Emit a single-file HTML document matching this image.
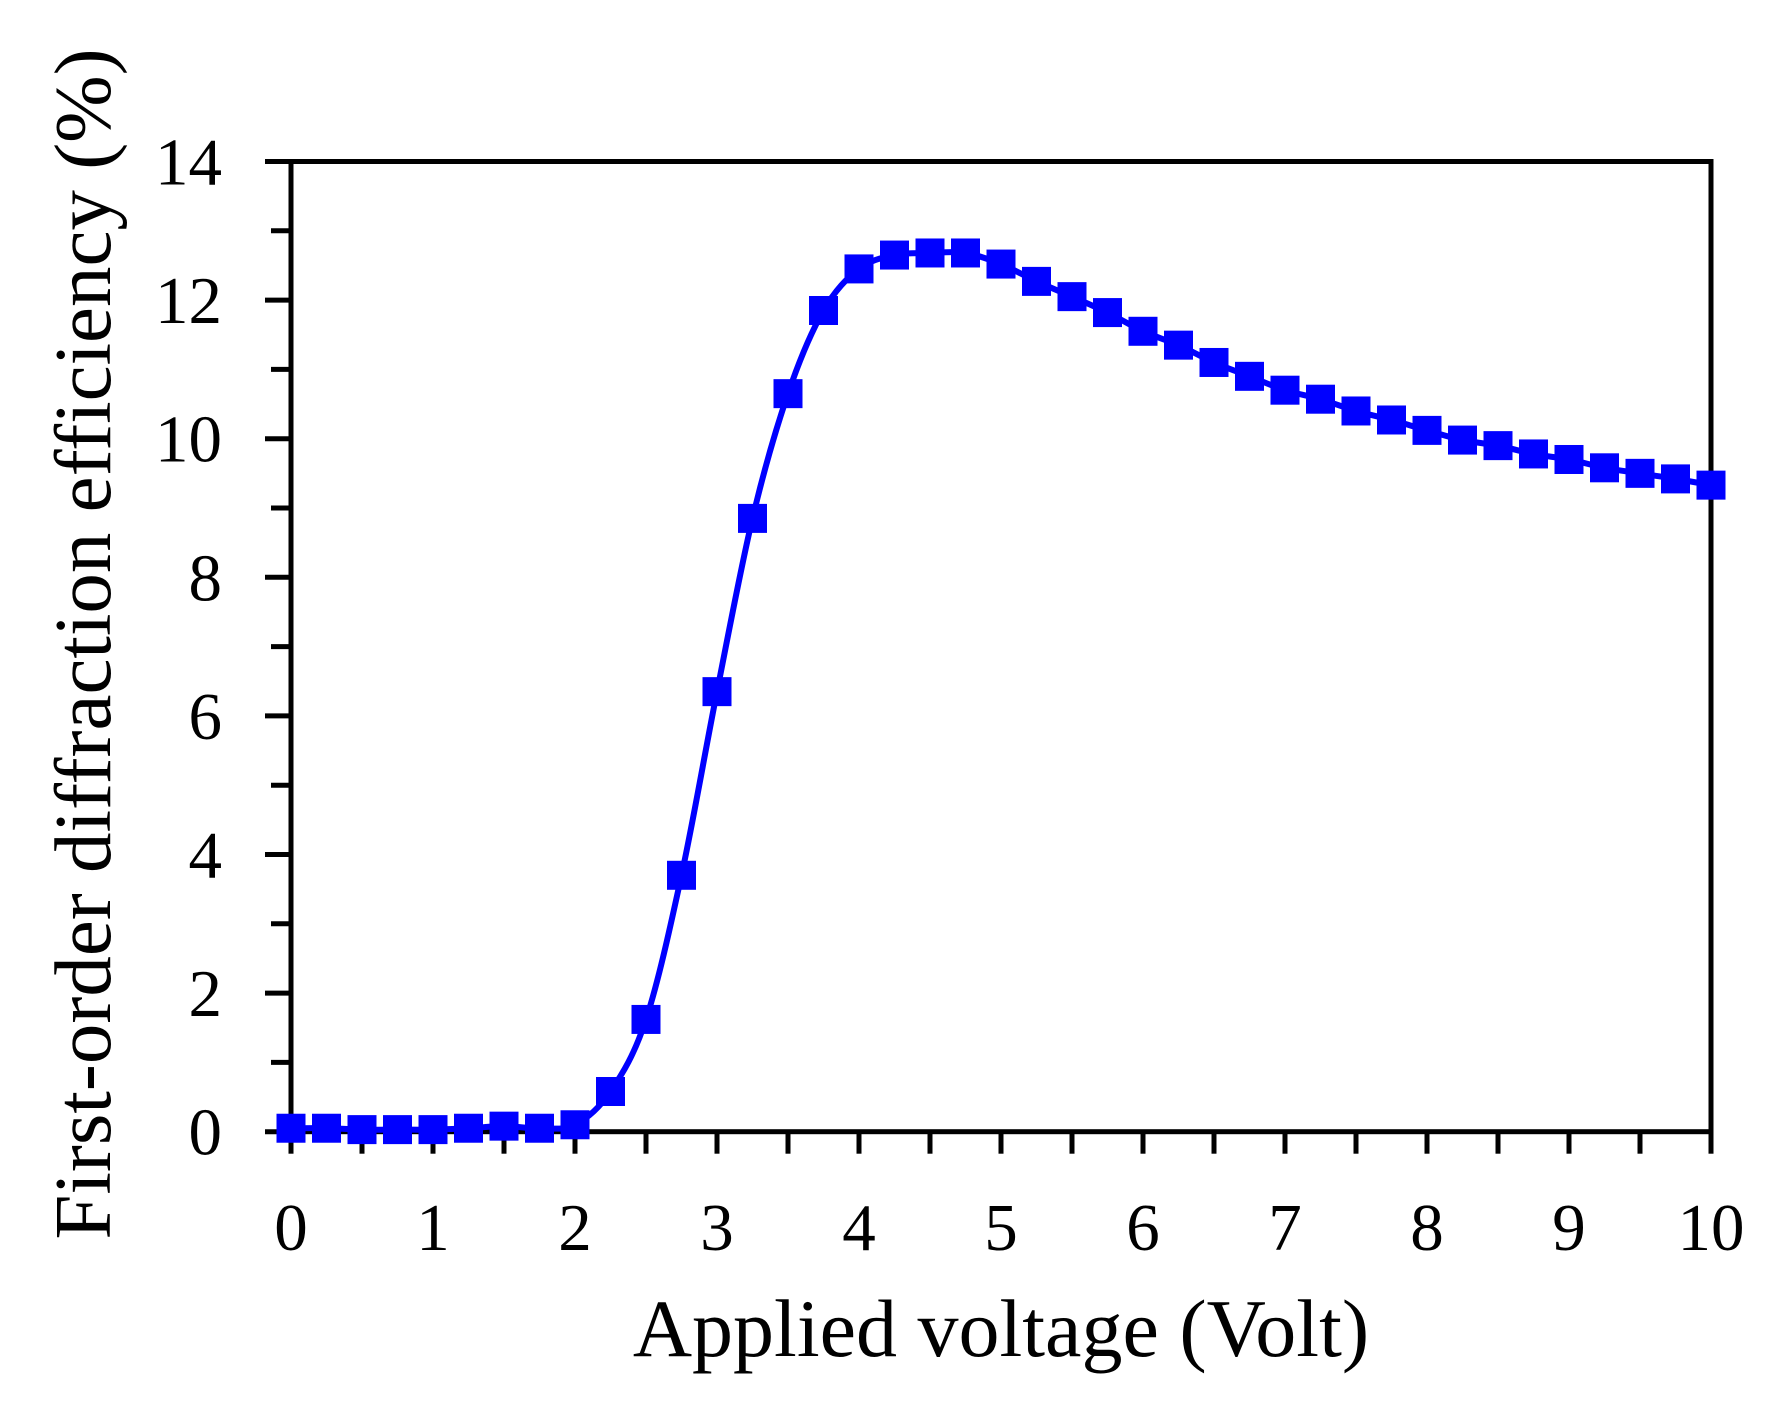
<!DOCTYPE html>
<html><head><meta charset="utf-8"><style>
html,body{margin:0;padding:0;background:#fff;}
svg text{font-family:"Liberation Serif",serif;fill:#000;}
</style></head><body>
<svg id="chart" width="1779" height="1401" viewBox="0 0 1779 1401" xmlns="http://www.w3.org/2000/svg">
<g id="axes"></g>
<path id="curve" fill="none" stroke="#0000ff" stroke-width="6"/>
<g id="marks"></g>
<text x="1001" y="1356" font-size="82" text-anchor="middle">Applied voltage (Volt)</text>
<text transform="translate(110,644) rotate(-90)" font-size="81" text-anchor="middle">First-order diffraction efficiency (%)</text>
</svg>
<script>
const voltages=[0,0.25,0.5,0.75,1,1.25,1.5,1.75,2,2.25,2.5,2.75,3,3.25,3.5,3.75,4,4.25,4.5,4.75,5,5.25,5.5,5.75,6,6.25,6.5,6.75,7,7.25,7.5,7.75,8,8.25,8.5,8.75,9,9.25,9.5,9.75,10];
const efficiency=[0.05,0.05,0.03,0.03,0.03,0.05,0.08,0.05,0.1,0.58,1.62,3.7,6.35,8.85,10.65,11.85,12.45,12.65,12.68,12.68,12.52,12.27,12.05,11.82,11.55,11.35,11.1,10.9,10.7,10.57,10.4,10.27,10.12,9.98,9.9,9.78,9.7,9.58,9.5,9.42,9.33];
const xTicks=[0,1,2,3,4,5,6,7,8,9,10];
const yTicks=[0,2,4,6,8,10,12,14];
const NS='http://www.w3.org/2000/svg';
const X0=291,X1=1711,Y0=1131.7,Y1=161.5;
const xs=v=>X0+(v-0)/(10-0)*(X1-X0);
const ys=v=>Y0-(v-0)/(14-0)*(Y0-Y1);
const axes=document.getElementById('axes');
function line(x1,y1,x2,y2,w,name){const l=document.createElementNS(NS,'line');l.setAttribute('x1',x1);l.setAttribute('y1',y1);l.setAttribute('x2',x2);l.setAttribute('y2',y2);l.setAttribute('stroke','#000');l.setAttribute('stroke-width',w);


axes.appendChild(l);}
const fr=document.createElementNS(NS,'rect');
fr.setAttribute('x',X0);fr.setAttribute('y',Y1);fr.setAttribute('width',X1-X0);fr.setAttribute('height',Y0-Y1);fr.setAttribute('fill','none');fr.setAttribute('stroke','#000');fr.setAttribute('stroke-width','5');


axes.appendChild(fr);
for(let v=0;v<=14.001;v+=1){const major=Math.abs(v%2)<1e-6;line(major?265:271,ys(v),X0,ys(v),5,major?'y-major-tick':'y-minor-tick');}
for(let v=0;v<=10.001;v+=0.5){line(xs(v),Y0,xs(v),Y0+22,5,'x-tick');}
yTicks.forEach(v=>{const t=document.createElementNS(NS,'text');t.setAttribute('x',222);t.setAttribute('y',ys(v)+23);t.setAttribute('font-size','67');t.setAttribute('text-anchor','end');t.textContent=v;


axes.appendChild(t);});
xTicks.forEach(v=>{const t=document.createElementNS(NS,'text');t.setAttribute('x',xs(v));t.setAttribute('y',1250);t.setAttribute('font-size','67');t.setAttribute('text-anchor','middle');t.textContent=v;


axes.appendChild(t);});
const P=voltages.map((v,i)=>[xs(v),ys(efficiency[i])]);
let d='M'+P[0][0]+','+P[0][1];
for(let i=0;i<P.length-1;i++){const p0=P[Math.max(0,i-1)],p1=P[i],p2=P[i+1],p3=P[Math.min(P.length-1,i+2)];
const c1=[p1[0]+(p2[0]-p0[0])/6,p1[1]+(p2[1]-p0[1])/6],c2=[p2[0]-(p3[0]-p1[0])/6,p2[1]-(p3[1]-p1[1])/6];
d+=' C'+c1+' '+c2+' '+p2;}
document.getElementById('curve').setAttribute('d',d);
const marks=document.getElementById('marks');
P.forEach(p=>{const r=document.createElementNS(NS,'rect');const s=29;r.setAttribute('x',p[0]-s/2);r.setAttribute('y',p[1]-s/2);r.setAttribute('width',s);r.setAttribute('height',s);r.setAttribute('fill','#0000ff');


marks.appendChild(r);});
</script>
</body></html>
